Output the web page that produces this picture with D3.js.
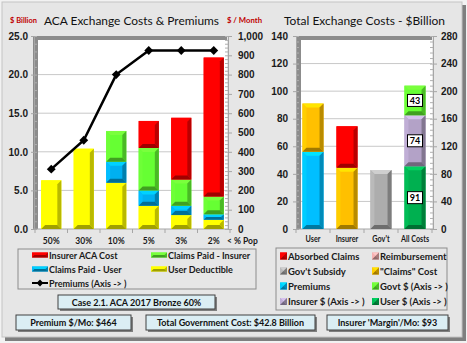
<!DOCTYPE html>
<html>
<head>
<meta charset="utf-8">
<script src="https://cdn.jsdelivr.net/npm/d3@7"></script>
<style>
  html, body { margin: 0; padding: 0; background: #f2f2f2; }
  svg { display: block; font-family: Lato, "Open Sans", sans-serif; }
</style>
</head>
<body>
<div id="chart"></div>
<script>
// left chart: exchange costs by population bracket
const popCats = ["50%", "30%", "10%", "5%", "3%", "2%"];
const userDeductible = [6.3, 10.4, 6.0, 3.0, 1.8, 1.2];
const claimsPaidUser = [0, 0, 2.7, 2.0, 1.2, 0.7];
const claimsPaidInsurer = [0, 0, 4.0, 5.5, 3.4, 2.3];
const insurerAcaCost = [0, 0, 0, 3.5, 8.0, 18.0];
const premiumsPerMonth = [310, 460, 800, 925, 925, 925];

// right chart: total exchange costs ($ billion)
const costCats = ["User", "Insurer", "Gov't", "All Costs"];
const premiumsB = [56, 0, 0, 0];
const claimsCostB = [35, 44.5, 0, 0];
const absorbedClaimsB = [0, 30, 0, 0];
const reimbursementB = [0, 0, 0, 0];
const govSubsidyB = [0, 0, 42.8, 0];
// "All Costs" column uses the right axis
const userDollars = [0, 0, 0, 91];
const insurerDollars = [0, 0, 0, 74];
const govtDollars = [0, 0, 0, 43];

const infoBoxes = [
  {text: "Case 2.1. ACA 2017 Bronze 60%", x: 58, y: 295, w: 157, h: 14},
  {text: "Premium $/Mo:  $464", x: 16, y: 315, w: 115, h: 15},
  {text: "Total Government Cost: $42.8 Billion", x: 146, y: 315, w: 169, h: 15},
  {text: "Insurer 'Margin'/Mo:  $93", x: 327, y: 315, w: 121, h: 15}
];

const W = 467, H = 343;
const svg = d3.select("#chart").append("svg")
    .attr("width", W).attr("height", H);

// Lato is wider than the Calibri-style face, so narrow some texts
function squeeze(sel, k) {
  sel.each(function () {
    const len = this.getComputedTextLength();
    this.setAttribute("textLength", (len * k).toFixed(1));
    this.setAttribute("lengthAdjust", "spacingAndGlyphs");
  });
  return sel;
}
function fitTo(sel, w) {
  sel.attr("textLength", w).attr("lengthAdjust", "spacingAndGlyphs");
  return sel;
}

// panel with drop shadow
svg.append("rect").attr("x", 5).attr("y", 5).attr("width", 461).attr("height", 336).attr("fill", "#7f7f7f");
svg.append("rect").attr("x", 2).attr("y", 2).attr("width", 460).attr("height", 335)
    .attr("fill", "#e6e6e6").attr("stroke", "#c4c4c4");

// draws a bevelled block like Excel's 3D "cool slant" bars
function bevelBar(g, x, y, w, h, color) {
  if (h <= 0.5) return;
  const b = Math.min(4, h / 2);
  const c = d3.color(color);
  g.append("rect").attr("x", x).attr("y", y).attr("width", w).attr("height", h).attr("fill", color);
  const poly = (pts, fill) => g.append("polygon").attr("points", pts.map(p => p.join(",")).join(" ")).attr("fill", fill);
  poly([[x, y], [x + w, y], [x + w - b, y + b], [x + b, y + b]], c.brighter(0.5));
  poly([[x, y], [x + b, y + b], [x + b, y + h - b], [x, y + h]], c.brighter(0.2));
  poly([[x + w, y], [x + w, y + h], [x + w - b, y + h - b], [x + w - b, y + b]], c.darker(0.9));
  poly([[x, y + h], [x + w, y + h], [x + w - b, y + h - b], [x + b, y + h - b]], c.darker(1.3));
}

function plotFrame(x0, x1, y0, y1) {
  svg.append("rect").attr("x", x0).attr("y", y0).attr("width", x1 - x0).attr("height", y1 - y0).attr("fill", "#8c8c8c");
  svg.append("rect").attr("x", x0 + 5).attr("y", y0 + 4).attr("width", x1 - x0 - 5).attr("height", y1 - y0 - 4).attr("fill", "#fff");
}

function gridLines(y, ticks, x0, x1) {
  svg.append("g").selectAll("line").data(ticks).join("line")
      .attr("x1", x0).attr("x2", x1)
      .attr("y1", d => y(d)).attr("y2", d => y(d))
      .attr("stroke", "#c8c8c8").attr("stroke-width", 1);
}

function styleAxis(g) {
  g.select(".domain").attr("stroke", "#a6a6a6");
  g.selectAll(".tick line").attr("stroke", "#a6a6a6");
  g.selectAll("text").attr("fill", "#1a1a1a").attr("font-size", 10).attr("font-weight", 700);
}

function minorTicks(axisFn, scale, values, xPos) {
  const g = svg.append("g").attr("transform", `translate(${xPos},0)`)
      .call(axisFn(scale).tickValues(values).tickSize(3).tickFormat(""));
  g.select(".domain").remove();
  g.selectAll(".tick line").attr("stroke", "#b0b0b0");
}

const yTop = 36, yBot = 229;

// ---------- left chart ----------
const xL = d3.scaleBand().domain(popCats).range([35, 230]).paddingInner(0.38).paddingOuter(0.19);
const yL = d3.scaleLinear().domain([0, 25]).range([yBot, yTop]);
const yR = d3.scaleLinear().domain([0, 1000]).range([yBot, yTop]);

plotFrame(33, 227, yTop, yBot);
gridLines(yL, [5, 10, 15, 20], 38, 227);

minorTicks(d3.axisRight, yL, d3.range(0, 25.01, 1), 34);
minorTicks(d3.axisLeft, yR, d3.range(0, 1001, 20), 228);

const axL = svg.append("g").attr("transform", "translate(34,0)")
    .call(d3.axisLeft(yL).tickValues(d3.range(0, 26, 5)).tickFormat(d3.format(".1f")).tickSize(3).tickPadding(3));
styleAxis(axL);
const axR = svg.append("g").attr("transform", "translate(228,0)")
    .call(d3.axisRight(yR).tickValues(d3.range(0, 1001, 100)).tickFormat(d3.format(",")).tickSize(4).tickPadding(6));
styleAxis(axR);

// category axis with ticks between bars
const xAxL = svg.append("g").attr("transform", `translate(0,${yBot})`);
xAxL.append("line").attr("x1", 33).attr("x2", 228).attr("stroke", "#a6a6a6");
xAxL.selectAll("line.sep").data(d3.range(popCats.length + 1)).join("line").attr("class", "sep")
    .attr("x1", i => 35 + i * xL.step()).attr("x2", i => 35 + i * xL.step())
    .attr("y1", 0).attr("y2", 4).attr("stroke", "#a6a6a6");
squeeze(xAxL.selectAll("text.cat").data(popCats).join("text").attr("class", "cat")
    .attr("x", d => xL(d) + xL.bandwidth() / 2).attr("y", 15)
    .attr("text-anchor", "middle").attr("font-size", 10).attr("font-weight", 700).attr("fill", "#1a1a1a")
    .text(d => d), 0.85);
squeeze(xAxL.append("text").attr("x", 227).attr("y", 15).attr("font-size", 10).attr("font-weight", 700)
    .attr("fill", "#1a1a1a").text("< % Pop"), 0.85);

const leftSeries = [
  {name: "User Deductible", values: userDeductible, color: "#ffff00"},
  {name: "Claims Paid - User", values: claimsPaidUser, color: "#00b0f0"},
  {name: "Claims Paid - Insurer", values: claimsPaidInsurer, color: "#66ff33"},
  {name: "Insurer ACA Cost", values: insurerAcaCost, color: "#ff0000"}
];
const barsL = svg.append("g");
popCats.forEach((cat, i) => {
  let base = 0;
  leftSeries.forEach(s => {
    const v = s.values[i];
    bevelBar(barsL, xL(cat), yL(base + v), xL.bandwidth(), yL(base) - yL(base + v), s.color);
    base += v;
  });
});

// premiums line on the right axis
const premLine = d3.line()
    .x((d, i) => xL(popCats[i]) + xL.bandwidth() / 2)
    .y(d => yR(d));
svg.append("path").datum(premiumsPerMonth).attr("d", premLine)
    .attr("fill", "none").attr("stroke", "#000").attr("stroke-width", 2.5);
const diamond = d3.symbol().type(d3.symbolDiamond2).size(50);
svg.append("g").selectAll("path").data(premiumsPerMonth).join("path")
    .attr("d", diamond)
    .attr("transform", (d, i) => `translate(${xL(popCats[i]) + xL.bandwidth() / 2},${yR(d)})`)
    .attr("fill", "#000");

fitTo(svg.append("text").attr("x", 44).attr("y", 25).attr("font-size", 12.3).attr("fill", "#111")
    .text("ACA Exchange Costs & Premiums"), 175);
fitTo(svg.append("text").attr("x", 10).attr("y", 23).attr("font-size", 7.5).attr("font-weight", 700).attr("fill", "#c00000")
    .text("$ Billion"), 27);
fitTo(svg.append("text").attr("x", 227).attr("y", 23).attr("font-size", 7.5).attr("font-weight", 700).attr("fill", "#c00000")
    .text("$ / Month"), 35);

// ---------- right chart ----------
const xC = d3.scaleBand().domain(costCats).range([296, 432]).paddingInner(0.38).paddingOuter(0.19);
const yC = d3.scaleLinear().domain([0, 140]).range([yBot, yTop]);
const yC2 = d3.scaleLinear().domain([0, 280]).range([yBot, yTop]);

plotFrame(296, 432, yTop, yBot);
gridLines(yC, [20, 40, 60, 80, 100, 120], 301, 432);

minorTicks(d3.axisRight, yC, d3.range(0, 141, 4), 296);
minorTicks(d3.axisLeft, yC2, d3.range(0, 281, 8), 433);

const axCL = svg.append("g").attr("transform", "translate(296,0)")
    .call(d3.axisLeft(yC).tickValues(d3.range(0, 141, 20)).tickSize(3).tickPadding(5));
styleAxis(axCL);
const axCR = svg.append("g").attr("transform", "translate(433,0)")
    .call(d3.axisRight(yC2).tickValues(d3.range(0, 281, 40)).tickSize(4).tickPadding(4));
styleAxis(axCR);

const xAxC = svg.append("g").attr("transform", `translate(0,${yBot})`);
xAxC.append("line").attr("x1", 296).attr("x2", 433).attr("stroke", "#a6a6a6");
xAxC.selectAll("line.sep").data(d3.range(costCats.length + 1)).join("line").attr("class", "sep")
    .attr("x1", i => 296 + i * xC.step()).attr("x2", i => 296 + i * xC.step())
    .attr("y1", 0).attr("y2", 4).attr("stroke", "#a6a6a6");
squeeze(xAxC.selectAll("text").data(costCats).join("text")
    .attr("x", d => xC(d) + xC.bandwidth() / 2).attr("y", 13)
    .attr("text-anchor", "middle").attr("font-size", 9.5).attr("font-weight", 700).attr("fill", "#1a1a1a")
    .text(d => d), 0.76);

const rightSeries = [
  {name: "Premiums", values: premiumsB, color: "#00bfff", axis: yC},
  {name: "\"Claims\" Cost", values: claimsCostB, color: "#ffc000", axis: yC},
  {name: "Absorbed Claims", values: absorbedClaimsB, color: "#ff0000", axis: yC},
  {name: "Reimbursement", values: reimbursementB, color: "#e6a5a5", axis: yC},
  {name: "Gov't Subsidy", values: govSubsidyB, color: "#adadad", axis: yC},
  {name: "User $", values: userDollars, color: "#00b050", axis: yC2, label: true},
  {name: "Insurer $", values: insurerDollars, color: "#b3a2c7", axis: yC2, label: true},
  {name: "Govt $", values: govtDollars, color: "#66ff33", axis: yC2, label: true}
];
const barsC = svg.append("g");
const labelsC = svg.append("g");
costCats.forEach((cat, i) => {
  let base = 0;
  rightSeries.forEach(s => {
    const v = s.values[i];
    if (!v) return;
    const y = s.axis;
    bevelBar(barsC, xC(cat), y(base + v), xC.bandwidth(), y(base) - y(base + v), s.color);
    if (s.label) {
      const cx = xC(cat) + xC.bandwidth() / 2, cy = y(base + v / 2);
      labelsC.append("rect").attr("x", cx - 7.5).attr("y", cy - 6).attr("width", 15).attr("height", 12)
          .attr("fill", "#fff").attr("stroke", "#000").attr("stroke-width", 1);
      labelsC.append("text").attr("x", cx).attr("y", cy + 3.5).attr("text-anchor", "middle")
          .attr("font-size", 9).attr("font-weight", 700).attr("fill", "#000").text(d3.format("d")(v));
    }
    base += v;
  });
});

fitTo(svg.append("text").attr("x", 284).attr("y", 25).attr("font-size", 12.3).attr("fill", "#111")
    .text("Total Exchange Costs - $Billion"), 161);

// ---------- legends ----------
const legL = svg.append("g");
legL.append("rect").attr("x", 18).attr("y", 249).attr("width", 238).attr("height", 40)
    .attr("fill", "none").attr("stroke", "#8c8c8c");
const legLItems = [
  {s: leftSeries[3], x: 32, y: 255}, {s: leftSeries[2], x: 151, y: 255},
  {s: leftSeries[1], x: 32, y: 269}, {s: leftSeries[0], x: 151, y: 269}
];
legLItems.forEach(it => {
  bevelBar(legL, it.x, it.y - 2.5, 16, 5, it.s.color);
  squeeze(legL.append("text").attr("x", it.x + 17).attr("y", it.y + 3.5).attr("font-size", 9.5).attr("font-weight", 700)
      .attr("fill", "#1a1a1a").text(it.s.name), 0.95);
});
legL.append("line").attr("x1", 32).attr("x2", 48).attr("y1", 283).attr("y2", 283).attr("stroke", "#000").attr("stroke-width", 2);
legL.append("path").attr("d", d3.symbol().type(d3.symbolDiamond2).size(30)).attr("transform", "translate(40,283)").attr("fill", "#000");
squeeze(legL.append("text").attr("x", 49).attr("y", 286.5).attr("font-size", 9.5).attr("font-weight", 700)
    .attr("fill", "#1a1a1a").text("Premiums  (Axis -> )"), 0.95);

const legR = svg.append("g");
legR.append("rect").attr("x", 276).attr("y", 248).attr("width", 171).attr("height", 62)
    .attr("fill", "none").attr("stroke", "#8c8c8c");
const legROrder = [
  ["Absorbed Claims", "Reimbursement"],
  ["Gov't Subsidy", "\"Claims\" Cost"],
  ["Premiums", "Govt $"],
  ["Insurer $", "User $"]
];
const rowsY = [256, 271, 286, 301.5];
legROrder.forEach((row, r) => {
  row.forEach((name, c) => {
    const s = rightSeries.find(d => d.name === name);
    const x = c === 0 ? 280 : 372;
    bevelBar(legR, x, rowsY[r] - 3.5, 7, 7, s.color);
    const label = s.axis === yC2 ? `${name}  (Axis -> )` : name;
    legR.append("text").attr("x", x + 8).attr("y", rowsY[r] + 3.5).attr("font-size", 9.5).attr("font-weight", 700)
        .attr("fill", "#1a1a1a").text(label);
  });
});

// ---------- info boxes ----------
const info = svg.append("g");
infoBoxes.forEach(b => {
  info.append("rect").attr("x", b.x + 2).attr("y", b.y + 2).attr("width", b.w).attr("height", b.h).attr("fill", "#7f7f7f");
  info.append("rect").attr("x", b.x).attr("y", b.y).attr("width", b.w).attr("height", b.h)
      .attr("fill", "#dbeef4").attr("stroke", "#404040");
  squeeze(info.append("text").attr("x", b.x + b.w / 2).attr("y", b.y + b.h / 2 + 3.5).attr("text-anchor", "middle")
      .attr("font-size", 10).attr("font-weight", 700).attr("fill", "#111").text(b.text), 0.9);
});
</script>
</body>
</html>
